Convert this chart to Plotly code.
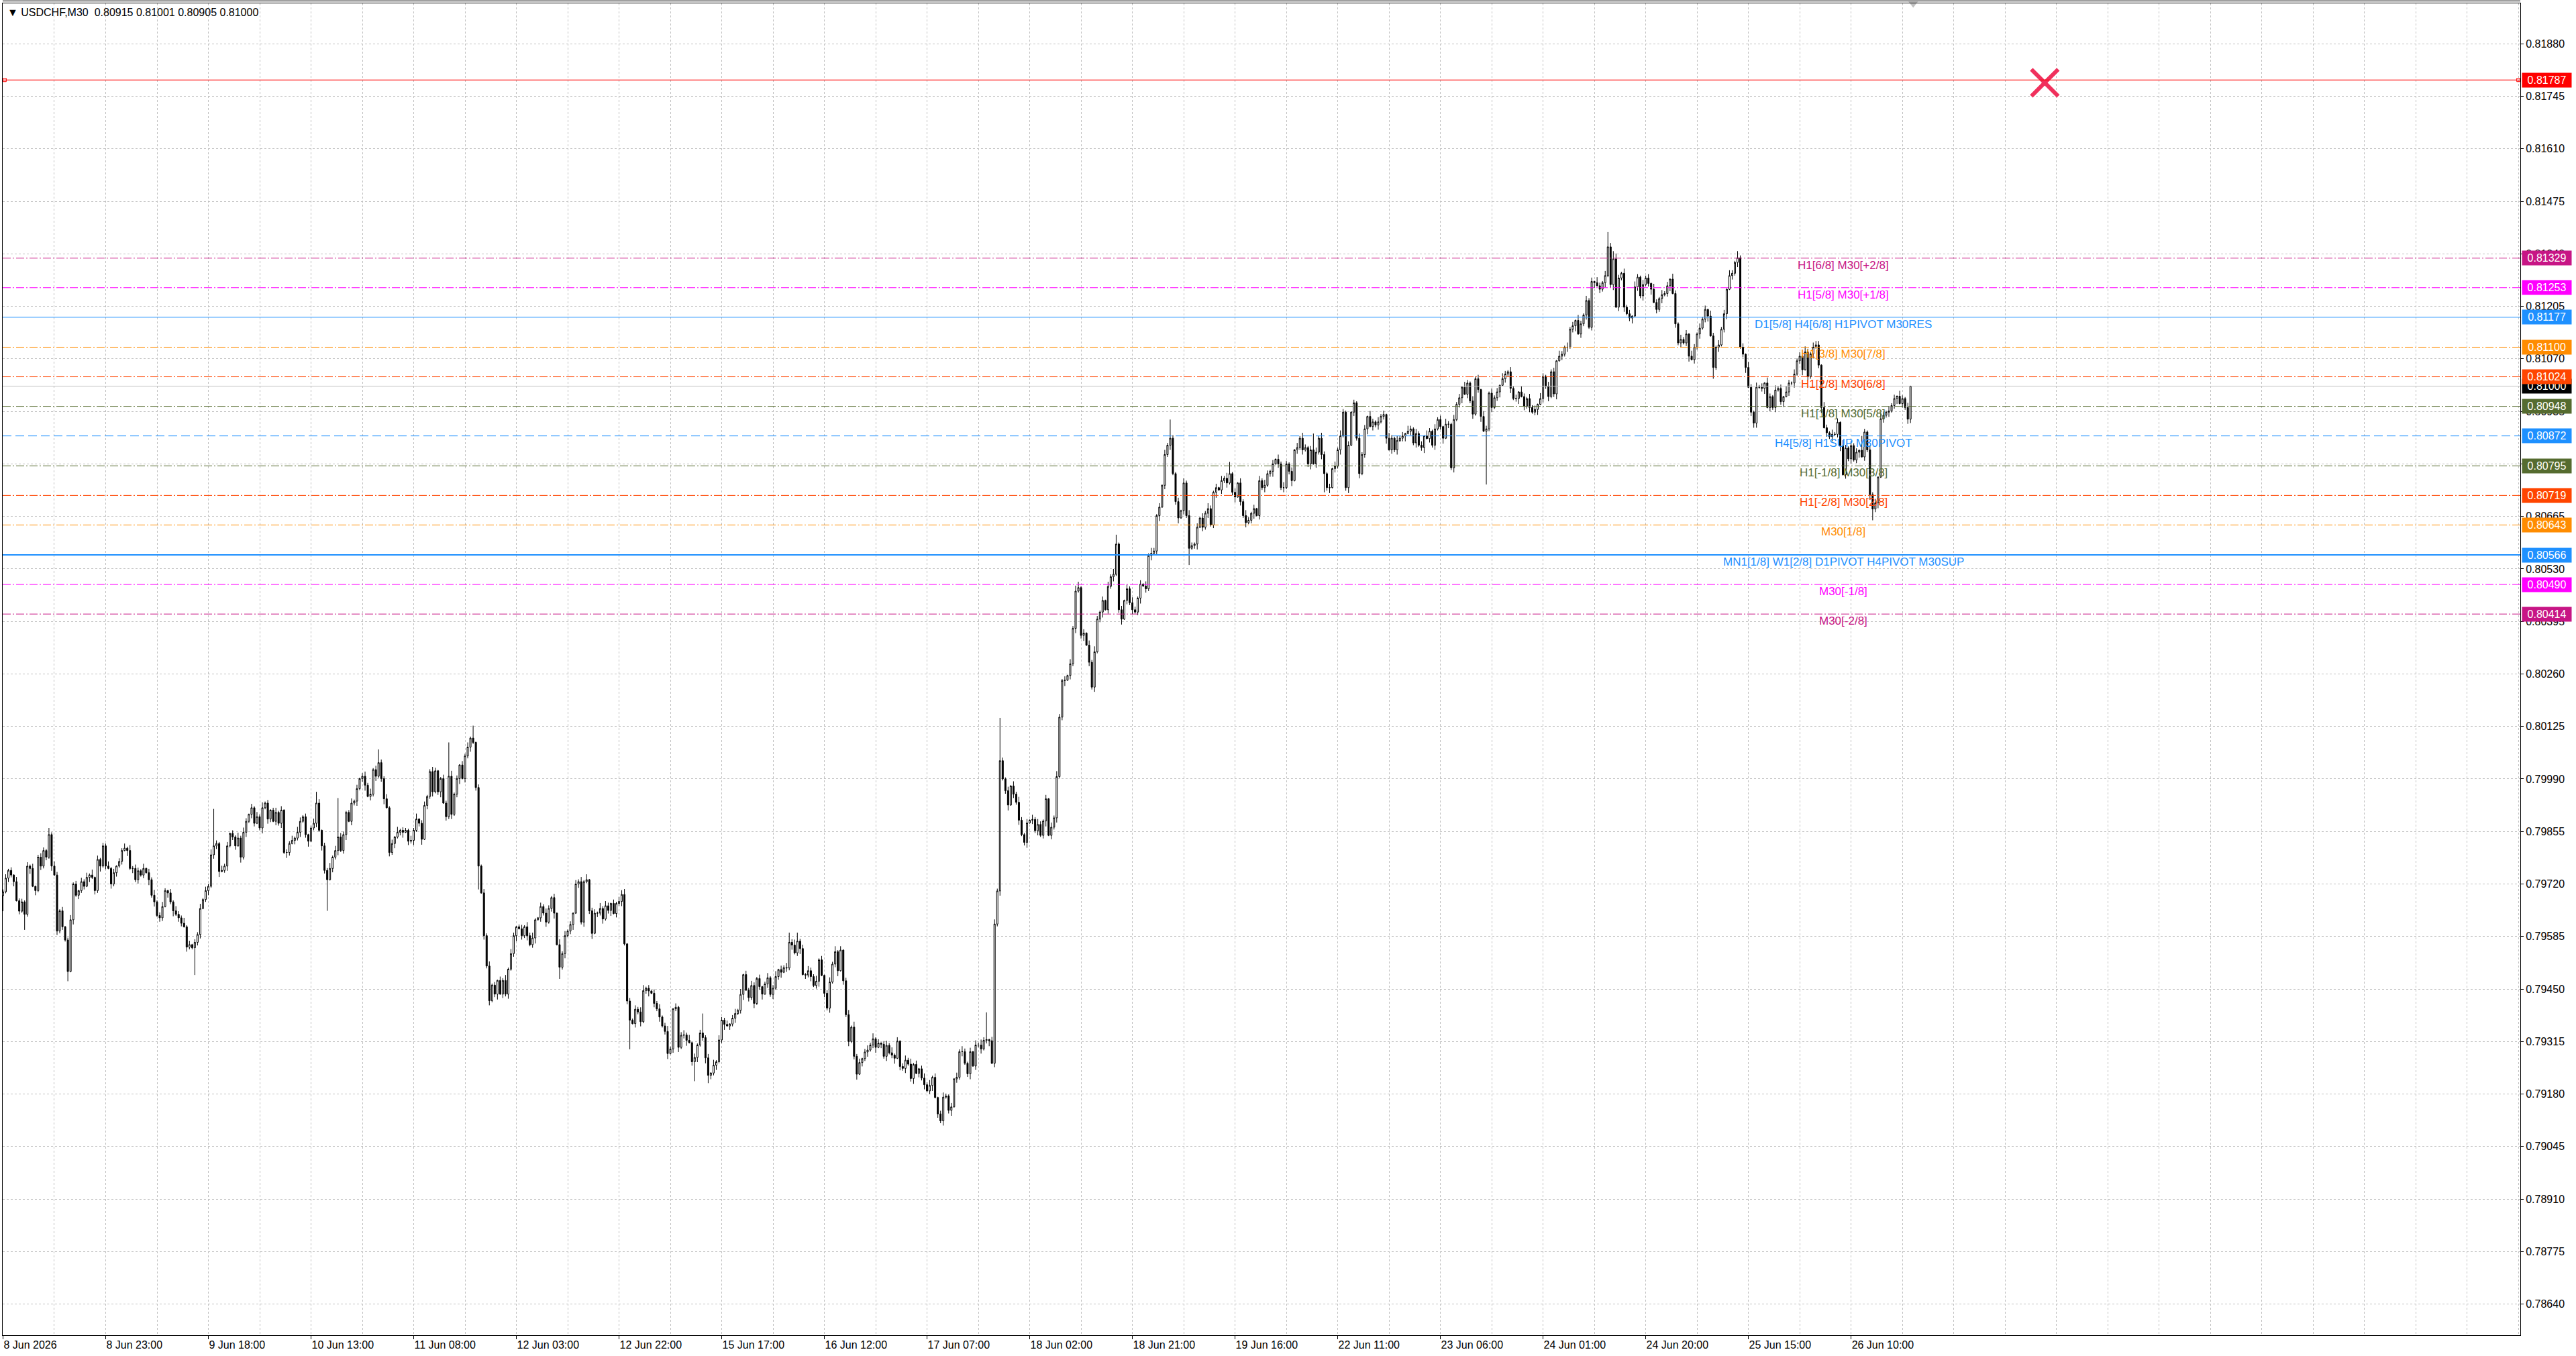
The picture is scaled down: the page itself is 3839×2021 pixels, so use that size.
import plotly.graph_objects as go

symbol = "USDCHF,M30"
base_price = 0.79
point = 0.00001

# M30 closes in points above 0.79000 (first bar 8 Jun 2026 04:00)
closes = [
    700, 735, 755, 743, 726, 677, 650, 674, 642, 766,
    760, 714, 703, 789, 766, 806, 789, 847, 766, 743,
    599, 651, 610, 576, 495, 628, 720, 691, 703, 726,
    714, 737, 743, 737, 703, 783, 766, 818, 766, 760,
    720, 749, 766, 778, 806, 812, 806, 760, 760, 731,
    754, 743, 760, 749, 731, 691, 674, 639, 633, 662,
    703, 697, 674, 651, 642, 633, 619, 610, 558, 564,
    556, 570, 590, 657, 680, 703, 714, 795, 818, 824,
    752, 755, 766, 818, 850, 841, 818, 838, 789, 853,
    881, 899, 916, 876, 893, 864, 916, 928, 887, 910,
    881, 904, 876, 910, 801, 801, 824, 832, 838, 853,
    881, 893, 847, 830, 864, 876, 928, 858, 818, 755,
    731, 760, 789, 806, 841, 806, 847, 904, 881, 928,
    933, 965, 991, 997, 974, 945, 951, 1014, 997, 1032,
    991, 939, 916, 801, 824, 841, 853, 858, 853, 858,
    830, 832, 858, 887, 876, 835, 922, 945, 1009, 957,
    1011, 957, 991, 928, 893, 997, 899, 951, 991, 1026,
    991, 1049, 1072, 1095, 1084, 968, 766, 697, 587, 509,
    420, 460, 437, 472, 437, 472, 437, 501, 541, 587,
    610, 605, 587, 610, 587, 564, 581, 628, 633, 662,
    645, 622, 657, 685, 645, 564, 506, 541, 587, 599,
    616, 645, 720, 726, 622, 726, 731, 651, 593, 645,
    645, 657, 630, 664, 652, 670, 644, 670, 675, 693,
    566, 419, 370, 361, 398, 391, 366, 446, 452, 445,
    439, 413, 399, 378, 355, 341, 284, 296, 399, 403,
    300, 331, 332, 318, 312, 263, 274, 306, 337, 325,
    273, 228, 234, 254, 263, 319, 370, 359, 355, 360,
    375, 387, 395, 436, 487, 447, 428, 459, 413, 477,
    456, 437, 463, 479, 436, 452, 482, 500, 493, 505,
    504, 570, 563, 543, 573, 554, 487, 486, 497, 482,
    459, 470, 525, 485, 439, 401, 468, 514, 546, 497,
    550, 471, 384, 315, 352, 277, 231, 261, 271, 288,
    293, 306, 322, 300, 311, 308, 277, 305, 286, 280,
    272, 316, 251, 246, 267, 257, 220, 256, 233, 245,
    221, 204, 188, 202, 223, 171, 129, 111, 172, 175,
    138, 147, 219, 223, 289, 289, 259, 232, 289, 252,
    306, 306, 296, 318, 320, 317, 259, 617, 702, 1037,
    990, 960, 923, 972, 951, 930, 884, 847, 827, 877,
    884, 886, 857, 873, 845, 882, 939, 845, 866, 890,
    996, 1149, 1243, 1244, 1256, 1286, 1377, 1473, 1482, 1359,
    1365, 1334, 1290, 1226, 1317, 1401, 1419, 1449, 1425, 1485,
    1510, 1516, 1594, 1425, 1401, 1449, 1479, 1443, 1425, 1419,
    1455, 1491, 1486, 1479, 1564, 1570, 1576, 1667, 1689, 1745,
    1824, 1848, 1866, 1775, 1703, 1661, 1680, 1751, 1667, 1583,
    1590, 1594, 1637, 1661, 1637, 1673, 1685, 1643, 1727, 1739,
    1733, 1757, 1763, 1751, 1775, 1727, 1715, 1751, 1703, 1667,
    1649, 1655, 1673, 1685, 1667, 1757, 1739, 1745, 1775, 1781,
    1800, 1812, 1800, 1739, 1739, 1800, 1781, 1757, 1836, 1842,
    1866, 1836, 1842, 1800, 1836, 1800, 1830, 1866, 1824, 1775,
    1739, 1739, 1788, 1794, 1836, 1872, 1933, 1739, 1848, 1933,
    1957, 1866, 1775, 1824, 1890, 1922, 1896, 1908, 1900, 1908,
    1922, 1927, 1866, 1836, 1866, 1836, 1860, 1866, 1872, 1878,
    1884, 1890, 1854, 1878, 1848, 1842, 1872, 1865, 1884, 1848,
    1890, 1914, 1896, 1866, 1902, 1902, 1790, 1914, 1953, 1970,
    1997, 1979, 2008, 1962, 1928, 2019, 1991, 1922, 1884, 1890,
    1982, 1945, 1970, 1985, 2002, 2019, 2031, 2037, 1994, 1968,
    1968, 1985, 1973, 1948, 1968, 1945, 1933, 1940, 1953, 1968,
    2025, 1999, 1973, 2037, 1980, 2065, 2077, 2082, 2100, 2100,
    2146, 2155, 2169, 2134, 2160, 2183, 2220, 2151, 2269, 2266,
    2258, 2249, 2266, 2284, 2358, 2261, 2327, 2203, 2278, 2290,
    2203, 2186, 2175, 2180, 2255, 2280, 2232, 2261, 2278, 2264,
    2249, 2215, 2197, 2225, 2235, 2238, 2258, 2275, 2238, 2160,
    2111, 2120, 2111, 2134, 2077, 2068, 2100, 2134, 2149, 2172,
    2197, 2180, 2129, 2048, 2100, 2106, 2146, 2186, 2249, 2284,
    2290, 2318, 2330, 2100, 2082, 2048, 1997, 1933, 1905, 1997,
    1997, 1994, 2008, 1945, 1973, 1945, 1990, 1994, 1960, 1973,
    1985, 2008, 2008, 2031, 2065, 2077, 2042, 2088, 2025, 2083,
    2100, 2106, 2054, 1945, 1893, 1880, 1870, 1876, 1876, 1907,
    1847, 1772, 1841, 1813, 1847, 1810, 1830, 1835, 1818, 1882,
    1836, 1721, 1684, 1700, 1766, 1916, 1925, 1933, 1936, 1950,
    1968, 1974, 1955, 1968, 1945, 1915, 2000,
]
first_open = 690

# wick sizes, one digit per bar (in 2-point steps)
hi_wick_digits = "".join([
    "3524163425 2613542736 4251362415 3627152436 2514362735",
    "4261537246 3152643725 1436253714 2635142736 4152637241",
    "3625143627 5241362514 3726154236 2514637251 4362517243",
    "2637145236 4125367241 5362714253 6241537264 1352647215",
    "3642517362 4153627145 2736415263 7142536724 1536247315",
    "2463715246 3517264351 4627153642 5136247153 6247135264",
    "3725146372 5146273514 6372514637 2514637251 4637251463",
    "2516374251 6374215637 4251637425 1637425163 7425163742",
    "5163742516 3742516374 2516374251 6374251637 4251637425",
    "1637425163 7425163742 5163742516 3742516374 2516374251",
    "4263517426 3517426351 7426351742 6351742635 1742635174",
    "2635174263 5174263517 4263517426 3517426351 7426351742",
    "6351742635 1742635174 2635174263 5174263517 4263517426",
    "3517426351 7426351742 6351742635 1742635174 2635174263",
    "5174263",
]).replace(" ", "")
lo_wick_digits = "".join([
    "4253614253 7162534261 5342716253 4162537241 6352417263",
    "5241736254 1637254163 2745136254 7136245173 6254137264",
    "1536274153 6247135264 7153624715 3624715362 4715362471",
    "5362471536 2471536247 1536247153 6247153624 7153624715",
    "3624715362 4715362471 5362471536 2471536247 1536247153",
    "6247153624 7153624715 3624715362 4715362471 5362471536",
    "2471536247 1536247153 6247153624 7153624715 3624715362",
    "4715362471 5362471536 2471536247 1536247153 6247153624",
    "7153624715 3624715362 4715362471 5362471536 2471536247",
    "1536247153 6247153624 7153624715 3624715362 4715362471",
    "5362471536 2471536247 1536247153 6247153624 7153624715",
    "3624715362 4715362471 5362471536 2471536247 1536247153",
    "6247153624 7153624715 3624715362 4715362471 5362471536",
    "2471536247 1536247153 6247153624 7153624715 3624715362",
    "4715362",
]).replace(" ", "")

# long wicks (points)
hi_long = {17: 17, 78: 95, 116: 29, 124: 100, 139: 34, 165: 87, 174: 32,
           229: 11, 259: 50, 291: 25, 294: 22, 364: 70, 369: 110, 398: 15,
           412: 24, 432: 48, 454: 30, 485: 42, 594: 38, 596: 20, 642: 17,
           671: 10, 688: 37, 706: 1}
lo_long = {0: 40, 8: 40, 24: 25, 71: 70, 120: 80, 176: 60, 206: 30, 232: 75,
           256: 50, 261: 20, 439: 43, 489: 48, 549: 137, 633: 29, 648: 12,
           692: 29, 706: 10}

x_labels = ["8 Jun 2026", "8 Jun 23:00", "9 Jun 18:00", "10 Jun 13:00", "11 Jun 08:00",
            "12 Jun 03:00", "12 Jun 22:00", "15 Jun 17:00", "16 Jun 12:00", "17 Jun 07:00",
            "18 Jun 02:00", "18 Jun 21:00", "19 Jun 16:00", "22 Jun 11:00", "23 Jun 06:00",
            "24 Jun 01:00", "24 Jun 20:00", "25 Jun 15:00", "26 Jun 10:00"]
x_label_bars = [0, 38, 76, 114, 152, 190, 228, 266, 304, 342, 380, 418, 456, 494,
                532, 570, 608, 646, 684]

y_ticks = [0.78640, 0.78775, 0.78910, 0.79045, 0.79180, 0.79315, 0.79450, 0.79585,
           0.79720, 0.79855, 0.79990, 0.80125, 0.80260, 0.80395, 0.80530, 0.80665,
           0.80800, 0.80935, 0.81070, 0.81205, 0.81340, 0.81475, 0.81610, 0.81745,
           0.81880]

# murrey levels
level_prices = [0.81329, 0.81253, 0.81177, 0.81100, 0.81024, 0.80948, 0.80872,
                0.80795, 0.80719, 0.80643, 0.80566, 0.80490, 0.80414]
level_names = ["H1[6/8] M30[+2/8]", "H1[5/8] M30[+1/8]", "D1[5/8] H4[6/8] H1PIVOT M30RES",
               "H1[3/8] M30[7/8]", "H1[2/8] M30[6/8]", "H1[1/8] M30[5/8]",
               "H4[5/8] H1SUP M30PIVOT", "H1[-1/8] M30[3/8]", "H1[-2/8] M30[2/8]",
               "M30[1/8]", "MN1[1/8] W1[2/8] D1PIVOT H4PIVOT M30SUP", "M30[-1/8]", "M30[-2/8]"]
level_colors = ["#C71585", "#FF00FF", "#1E90FF", "#FF8C00", "#FF4500", "#556B2F",
                "#1E90FF", "#556B2F", "#FF4500", "#FF8C00", "#1E90FF", "#FF00FF", "#C71585"]
level_dash = ["12px,3px,2px,3px", "12px,3px,2px,3px", "solid", "12px,3px,2px,3px",
              "12px,3px,2px,3px", "12px,3px,2px,3px", "13px,6px", "12px,3px,2px,3px",
              "12px,3px,2px,3px", "12px,3px,2px,3px", "solid", "12px,3px,2px,3px",
              "12px,3px,2px,3px"]
level_width = [1, 1, 1, 1, 1, 1, 1, 1, 1, 1, 2, 1, 1]
level_label_bar = 681.2

alert_price = 0.81787
cross_bar = 755.7
cross_price = 0.81780

x_range = [-0.12, 931.7]
y_range = [0.78560, 0.81984]

n = len(closes)
assert len(hi_wick_digits) == n and len(lo_wick_digits) == n, (n, len(hi_wick_digits), len(lo_wick_digits))

opens = [first_open] + closes[:-1]
highs, lows = [], []
for i in range(n):
    up = hi_long.get(i, 2 * int(hi_wick_digits[i]))
    dn = lo_long.get(i, 2 * int(lo_wick_digits[i]))
    highs.append(max(opens[i], closes[i]) + up)
    lows.append(min(opens[i], closes[i]) - dn)


def to_price(v):
    return round(base_price + v * point, 5)


o = [to_price(v) for v in opens]
h = [to_price(v) for v in highs]
l = [to_price(v) for v in lows]
c = [to_price(v) for v in closes]
bars = list(range(n))

fig = go.Figure()
fig.add_trace(go.Candlestick(
    x=bars, open=o, high=h, low=l, close=c,
    increasing=dict(line=dict(color="black", width=1), fillcolor="white"),
    decreasing=dict(line=dict(color="black", width=1), fillcolor="black"),
    whiskerwidth=0, hoverinfo="skip", showlegend=False))

font_name = "Liberation Sans"
grid = dict(showgrid=True, gridcolor="#C0C0C0", griddash="3px,3px", gridwidth=1)

# level lines, texts and price boxes
shapes = []
annotations = []
bid = c[-1]
shapes.append(dict(type="line", xref="paper", x0=0, x1=1, yref="y", y0=bid, y1=bid,
                   line=dict(color="#C0C0C0", width=1), layer="above"))
annotations.append(dict(xref="paper", x=1, xanchor="left", xshift=2, yref="y", y=bid,
                        yanchor="middle", text=f"{bid:.5f}", showarrow=False,
                        bgcolor="black", font=dict(color="white", size=16, family=font_name),
                        width=71, height=19))
shapes.append(dict(type="line", xref="paper", x0=0, x1=1, yref="y", y0=alert_price,
                   y1=alert_price, line=dict(color="#FF0000", width=1)))
annotations.append(dict(xref="paper", x=1, xanchor="left", xshift=2, yref="y", y=alert_price,
                        yanchor="middle", text=f"{alert_price:.5f}", showarrow=False,
                        bgcolor="#FF0000", font=dict(color="white", size=16, family=font_name),
                        width=71, height=19))
for price, name, col, dash, wd in zip(level_prices, level_names, level_colors, level_dash, level_width):
    shapes.append(dict(type="line", xref="paper", x0=0, x1=1, yref="y", y0=price, y1=price,
                       line=dict(color=col, width=wd, dash=dash)))
    annotations.append(dict(xref="x", x=level_label_bar, xanchor="center", yref="y", y=price,
                            yanchor="top", text=name, showarrow=False, borderpad=0,
                            font=dict(color=col, size=17, family=font_name)))
    annotations.append(dict(xref="paper", x=1, xanchor="left", xshift=2, yref="y", y=price,
                            yanchor="middle", text=f"{price:.5f}", showarrow=False,
                            bgcolor=col, font=dict(color="white", size=16, family=font_name),
                            width=71, height=19))

# header
nb = "\u00a0"
header = f"\u25bc{nb}{symbol}{nb}{nb}{o[-1]:.5f} {h[-1]:.5f} {l[-1]:.5f} {c[-1]:.5f}"
annotations.append(dict(xref="paper", yref="paper", x=0, y=1, xanchor="left", yanchor="top",
                        xshift=5, yshift=-3, text=header, showarrow=False,
                        font=dict(color="black", size=16, family=font_name)))

# thin window border above the chart
shapes.append(dict(type="rect", xref="paper", yref="paper", x0=0, x1=1, y0=1.0012, y1=1.01,
                   line=dict(width=0), fillcolor="#A0A0A0"))

# square ends of the alert line
fig.add_trace(go.Scatter(x=[x_range[0] + 0.7, x_range[1] - 0.7], y=[alert_price, alert_price],
                         mode="markers", cliponaxis=False, hoverinfo="skip", showlegend=False,
                         marker=dict(symbol="square-open", size=5, color="#FF0000",
                                     line=dict(width=1, color="#FF0000"))))
# red cross
fig.add_trace(go.Scatter(x=[cross_bar], y=[cross_price], mode="markers", hoverinfo="skip",
                         showlegend=False,
                         marker=dict(symbol="x-thin", size=40, color="#F0305C",
                                     line=dict(width=6, color="#F0305C"))))
# chart shift marker
fig.add_trace(go.Scatter(x=[n], y=[y_range[1]], mode="markers", cliponaxis=False,
                         hoverinfo="skip", showlegend=False,
                         marker=dict(symbol="triangle-down", size=13, color="#C0C0C0")))

fig.update_layout(
    width=3839, height=2021,
    margin=dict(l=4, r=83, t=5, b=31),
    paper_bgcolor="white", plot_bgcolor="white",
    showlegend=False,
    shapes=shapes, annotations=annotations,
    font=dict(family=font_name, color="black", size=16),
    xaxis=dict(range=x_range, tickmode="array", tickvals=x_label_bars, ticktext=x_labels,
               ticklabelposition="outside right", ticks="outside", ticklen=5,
               tickcolor="black", showline=True, linecolor="black", linewidth=1, mirror=True,
               zeroline=False, rangeslider=dict(visible=False),
               tickfont=dict(size=16, family=font_name, color="black"),
               minor=dict(tick0=0, dtick=19, ticks="", **grid), **grid),
    yaxis=dict(range=y_range, side="right", tickmode="array", tickvals=y_ticks,
               tickformat=".5f", ticks="outside", ticklen=4, tickcolor="black",
               showline=True, linecolor="black", linewidth=1, mirror=True, zeroline=False,
               tickfont=dict(size=16, family=font_name, color="black"), **grid),
)

fig.write_html("out.html", config={"displayModeBar": False},
               post_script="document.body.style.margin='0';")
